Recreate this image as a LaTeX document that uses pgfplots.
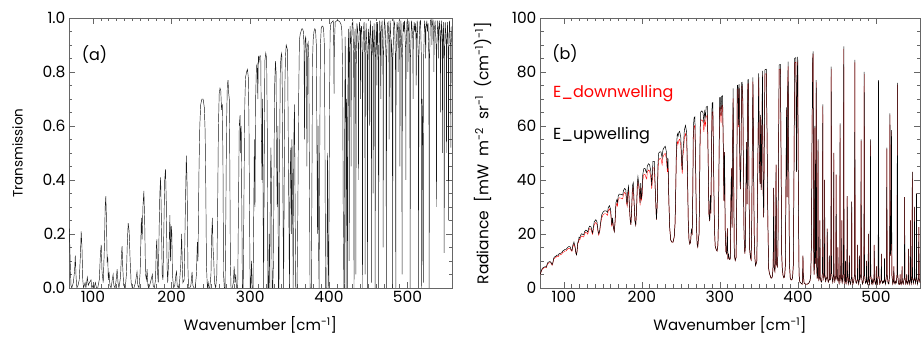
\documentclass[border=0pt]{standalone}
\usepackage{fontspec}
\setmainfont{Poppins}
\usepackage{pgfplots}
\usepackage{pgfplotstable}
\pgfplotsset{compat=1.18}
\pgfplotstableread{
x T U D
70 0.22 5.2 5.1
71 0.10 6.2 6.1
72 0.01 7.0 6.7
73 0.0 7.4 7.1
75 0.02 7.8 7.5
76.5 0.06 7.9 7.6
77.5 0.12 7.7 7.5
78.5 0.04 8.7 8.3
79.5 0.0 9.4 9.0
81 0.01 9.7 9.3
82.5 0.03 9.8 9.4
84 0.12 9.3 9.1
85 0.21 8.6 8.4
86 0.15 9.4 9.2
87 0.03 11.0 10.6
88 0.0 11.5 11.0
90 0.02 11.8 11.3
91 0.0 12.2 11.7
92.8 0.04 12.1 11.6
94 0.01 12.7 12.2
95.5 0.02 12.8 12.3
97.5 0.03 13.1 12.6
98.5 0.0 13.7 13.2
100 0.01 13.9 13.3
101.5 0.0 14.3 13.7
103 0.02 14.3 13.7
104.5 0.0 14.9 14.3
106 0.0 15.3 14.7
108 0.03 15.3 14.7
109.5 0.13 14.1 13.8
110.5 0.16 13.9 13.6
111.5 0.06 15.8 15.2
113 0.02 17.0 16.3
114.5 0.15 15.2 14.9
115.5 0.30 12.9 12.9
116.3 0.34 12.3 12.3
117 0.27 13.7 13.6
118 0.10 17.1 16.7
118.8 0.11 17.1 16.7
119.5 0.03 18.8 18.1
120.5 0.06 18.5 17.8
121.5 0.01 19.6 18.8
123 0.0 20.1 19.3
124.5 0.03 19.8 19.0
125.6 0.05 19.7 18.9
126.5 0.01 20.8 20.0
128 0.0 21.4 20.6
129.5 0.03 21.2 20.4
130.7 0.07 20.7 19.9
131.8 0.02 22.1 21.2
133 0.0 22.9 22.0
135 0.04 22.6 21.7
136.3 0.13 20.8 20.3
137 0.155 20.4 19.9
137.8 0.08 22.4 21.5
139 0.01 24.5 23.5
141 0.0 25.3 24.3
142.5 0.05 24.5 23.5
143.8 0.18 21.4 20.9
144.8 0.24 20.1 19.6
146 0.21 21.3 20.8
147 0.12 23.9 23.4
148.5 0.02 27.0 25.9
150 0.0 28.0 26.9
152 0.0 28.6 27.5
154 0.02 28.6 27.5
156 0.06 28.0 26.9
157 0.01 29.8 28.6
158.5 0.0 30.5 29.3
160 0.06 29.1 28.0
161.5 0.26 23.3 22.7
162.5 0.18 26.0 25.4
163.5 0.30 22.5 22.5
164.7 0.36 20.9 20.9
165.7 0.25 24.7 24.2
166.8 0.05 31.6 30.3
168 0.03 32.7 31.4
168.8 0.07 31.7 30.4
169.8 0.01 34.1 32.7
171 0.0 34.8 33.4
173 0.02 34.7 33.3
175.5 0.05 34.4 33.0
176.5 0.01 36.1 34.7
178 0.0 36.9 35.4
179.5 0.03 36.3 34.8
180.5 0.15 32.1 31.3
181.2 0.18 31.1 30.3
182 0.06 35.8 34.3
183 0.02 37.6 36.1
184 0.2 31.1 30.3
185 0.35 25.5 25.5
186 0.41 23.4 23.4
187 0.25 29.8 29.0
188 0.05 37.9 36.4
189 0.03 39.0 37.4
190 0.2 32.5 31.7
191.2 0.4 24.7 24.7
192.2 0.44 23.3 23.3
193.2 0.32 28.4 28.4
194.2 0.08 38.5 36.9
195 0.02 41.2 39.5
196.5 0.12 37.5 36.6
197.8 0.27 31.4 30.6
198.6 0.1 38.8 37.3
199.5 0.23 33.5 32.6
200.3 0.2 35.0 34.1
201 0.05 41.6 39.5
202.5 0.0 44.2 42.0
204 0.01 44.3 42.1
205.5 0.05 43.0 40.8
206.3 0.06 42.7 40.4
207 0.01 45.2 42.9
208.5 0.0 46.0 43.7
210 0.02 45.6 43.3
211.5 0.08 43.2 40.9
212.7 0.2 37.9 36.7
213.5 0.1 42.8 40.4
214.3 0.02 46.9 44.5
216 0.03 46.9 44.5
217.5 0.3 34.2 34.2
218.7 0.49 25.3 25.3
219.7 0.38 30.8 30.8
220.7 0.08 45.8 43.3
221.5 0.0 49.9 47.4
223 0.0 50.4 47.9
224.5 0.01 50.4 47.9
226 0.06 48.3 45.7
227 0.01 51.1 48.5
228.5 0.0 52.0 49.4
230 0.0 52.5 49.9
231.5 0.05 50.4 47.7
232.7 0.17 44.3 43.0
233.5 0.1 48.2 45.5
234.7 0.42 31.5 31.5
235.8 0.6 22.0 22.0
237 0.68 17.8 17.8
238.5 0.70 17.0 17.0
240 0.70 17.0 17.0
241.5 0.67 18.9 18.9
242.6 0.58 24.0 24.0
243.5 0.35 36.9 36.9
244.3 0.08 52.3 49.5
245.5 0.0 57.1 54.2
246.5 0.02 56.3 53.4
247.5 0.0 57.7 54.8
248.5 0.0 58.0 55.1
250 0.05 55.6 52.7
251 0.2 47.1 45.6
251.8 0.26 43.8 42.3
252.6 0.15 50.5 49.0
253.6 0.1 53.7 51.0
254.5 0.02 58.6 55.6
256 0.0 60.2 57.2
257.5 0.05 57.5 54.5
258.5 0.3 42.7 42.7
259.5 0.6 24.7 24.7
260.5 0.72 17.6 17.6
261.5 0.74 16.3 16.3
262.5 0.73 17.0 17.0
263.5 0.66 21.4 21.4
264.5 0.68 20.2 20.2
265.3 0.45 34.7 34.7
266 0.05 59.7 56.6
267 0.0 63.1 59.9
268 0.0 63.4 60.2
269 0.3 44.7 44.7
269.8 0.6 25.9 25.9
270.8 0.75 16.4 16.4
271.7 0.77 15.2 15.2
272.6 0.72 18.4 18.4
273.3 0.70 19.9 19.9
274 0.45 35.9 35.9
274.7 0.1 58.5 55.3
275.5 0.0 65.2 61.9
277 0.0 65.6 62.3
278.5 0.02 64.8 61.5
279.5 0.08 61.1 57.8
280.5 0.02 65.3 62.0
281.5 0.05 63.5 60.2
282.5 0.0 67.0 63.6
284 0.0 67.3 63.9
285 0.3 47.4 47.4
286 0.6 27.4 27.4
287 0.64 24.8 24.8
287.8 0.5 34.3 34.3
288.5 0.6 27.6 27.6
289.2 0.3 48.0 48.0
290 0.0 68.5 65.1
291 0.0 68.7 65.3
292 0.35 45.0 45.0
293 0.68 22.5 22.5
294 0.78 15.6 15.6
295.2 0.80 14.3 14.3
296.4 0.81 13.7 13.7
297.5 0.78 15.8 15.8
298.3 0.62 27.0 27.0
299 0.3 49.4 49.4
299.8 0.0 70.5 67.0
300.5 0.0 70.6 67.1
301.5 0.1 63.8 61.1
302.3 0.0 71.0 67.5
303.5 0.0 71.2 67.6
304.5 0.3 50.1 50.1
305.2 0.55 32.4 32.4
306 0.3 50.3 50.3
306.8 0.7 21.9 21.9
307.8 0.82 13.4 13.4
308.8 0.83 12.7 12.7
309.6 0.70 22.1 22.1
310.3 0.86 10.6 10.6
311.2 0.84 12.3 12.3
312.2 0.86 10.6 10.6
313.3 0.86 10.7 10.7
314 0.6 29.6 29.6
314.8 0.4 44.3 44.3
315.6 0.7 22.4 22.4
316.3 0.3 51.8 51.8
317 0.0 73.9 70.2
317.8 0.5 37.3 37.3
318.5 0.84 12.3 12.3
319.7 0.87 10.2 10.2
320.8 0.85 11.3 11.3
321.6 0.6 30.2 30.2
322.3 0.0 75.0 73.5
323.2 0.0 75.1 73.6
324 0.2 60.4 59.6
324.8 0.0 75.5 74.0
325.5 0.35 49.3 49.3
326.2 0.52 36.6 36.6
327 0.4 45.7 45.7
327.8 0.0 76.1 74.6
328.6 0.0 76.2 74.7
329.5 0.1 68.8 67.4
330.3 0.5 38.5 38.5
331 0.75 19.5 19.5
332 0.84 12.7 12.7
332.8 0.80 15.8 15.8
333.6 0.45 42.5 42.5
334.3 0.3 54.0 54.0
335 0.6 31.1 31.1
335.8 0.0 77.1 75.6
336.5 0.0 77.2 75.7
337.3 0.5 38.9 38.9
338.2 0.82 14.3 14.3
339.2 0.86 11.3 11.3
340 0.87 10.5 10.5
340.8 0.72 22.3 22.3
341.6 0.3 54.6 54.6
342.4 0.0 78.0 76.4
343.2 0.4 47.0 47.0
344 0.75 20.0 20.0
344.8 0.86 11.4 11.4
345.7 0.90 8.3 8.3
346.6 0.89 9.1 9.1
347.4 0.88 10.0 10.0
348.2 0.6 32.0 32.0
349 0.3 55.6 55.6
349.8 0.0 79.5 77.9
350.6 0.4 48.0 48.0
351.5 0.52 38.6 38.6
352.3 0.2 64.1 63.3
353 0.55 36.3 36.3
353.8 0.3 56.3 56.3
354.6 0.0 80.4 78.8
355.4 0.55 36.6 36.6
356.2 0.68 26.2 26.2
357 0.3 56.6 56.6
357.8 0.0 80.8 79.2
358.6 0.0 80.9 79.3
359.5 0.0 81.0 79.4
360.5 0.3 56.9 56.9
361.5 0.7 24.7 24.7
362.5 0.92 7.3 7.3
363.5 0.94 5.4 5.4
364.5 0.95 4.6 4.6
365.5 0.96 3.7 3.7
366.5 0.96 3.7 3.7
367.5 0.95 4.6 4.6
368.3 0.90 8.6 8.6
369 0.55 37.1 37.1
369.7 0.92 7.4 7.4
370.5 0.93 6.2 6.2
371.3 0.88 10.3 10.3
372 0.45 45.7 45.7
372.8 0.90 8.7 8.7
373.6 0.91 7.9 7.9
374.4 0.85 12.8 12.8
375.2 0.4 49.7 49.7
376 0.0 82.6 81.0
376.8 0.0 82.7 81.0
377.6 0.0 82.8 81.1
378.4 0.4 49.9 49.9
379.2 0.85 12.9 12.9
380 0.92 7.1 7.1
381 0.95 4.6 4.6
382 0.96 3.8 3.8
383 0.955 4.2 4.2
384 0.9 8.8 8.8
384.8 0.5 42.0 42.0
385.5 0.2 66.9 66.0
386.2 0.6 33.7 33.7
386.8 0.15 71.3 70.5
387.5 0.0 83.8 82.1
388.3 0.5 42.2 42.2
389.2 0.9 8.8 8.8
390.2 0.96 3.8 3.8
391.2 0.97 3.0 3.0
392.2 0.97 3.0 3.0
393.2 0.96 3.9 3.9
394.2 0.9 8.9 8.9
395 0.5 42.8 42.8
395.8 0.0 85.1 83.4
396.6 0.0 85.2 83.5
397.4 0.0 85.3 83.6
398.2 0.5 43.0 43.0
399 0.1 77.0 76.0
399.8 0.0 85.6 83.9
400.6 0.6 34.5 34.5
401.5 0.95 4.8 4.8
402.5 0.98 2.2 2.2
404 0.985 1.8 1.8
405.5 0.99 1.4 1.4
406.1 0.9 5 5
406.5 0.72 12 12
406.9 0.9 5 5
408 0.985 1.8 1.8
410 0.99 1.4 1.4
412 0.99 1.4 1.4
414 0.985 1.8 1.8
415.5 0.975 2.7 2.7
416.5 0.95 4.8 4.8
417.4 0.8 18 18
418.2 0.3 60 60
419.0 0.0 85 84.2
419.5 0.0 87.6 86.7
420.1 0.6 18 18
420.7 0.93 5 5
421.3 0.7 9 9
421.8 0.0 60 59.4
422.3 0.7 9 9
422.9 0.6 14 14
423.5 0.0 77 76.2
424.1 0.7 8 8
424.7 0.96 3.5 3.5
425.4 0.85 5 5
425.8 0.1 55 54.5
426.2 0.85 5 5
426.9 0.97 3 3
427.8 0.9 4 4
428.2 0.45 25 25
428.6 0.9 4 4
429.6 0.98 2.5 2.5
430.5 0.985 2.2 2.2
431.5 0.85 6 6
431.9 0.0 68 67.3
432.3 0.85 6 6
433.2 0.96 3.5 3.5
434.0 0.8 5 5
434.3 0.05 40 40
434.6 0.8 5 5
435.6 0.98 2.5 2.5
436.4 0.96 3.5 3.5
437.3 0.88 4 4
437.6 0.4 22 22
437.9 0.88 4 4
438.9 0.985 2.2 2.2
439.9 0.95 3 3
440.2 0.7 12 12
440.5 0.95 3 3
441.5 0.97 3 3
442.3 0.85 6 6
442.7 0.0 82 81.2
443.1 0.85 6 6
444.0 0.96 3.5 3.5
444.7 0.985 2.2 2.2
445.7 0.85 5 5
446.0 0.05 50 50
446.3 0.85 5 5
447.3 0.98 2.5 2.5
448.6 0.85 4.5 4.5
449.0 0.0 42 42
449.4 0.85 4.5 4.5
450.4 0.96 3 3
451.0 0.9 4 4
451.3 0.6 15 15
451.6 0.9 4 4
452.8 0.99 1.8 1.8
453.7 0.85 5 5
454.0 0.02 61 60.4
454.3 0.85 5 5
455.3 0.97 2.5 2.5
456.0 0.88 4 4
456.3 0.35 25 25
456.6 0.88 4 4
457.5 0.98 2.2 2.2
458.4 0.85 6 6
458.8 0.0 89.5 88.6
459.2 0.85 6 6
460.2 0.985 2 2
460.7 0.93 3 3
461.0 0.75 10 10
461.3 0.93 3 3
461.8 0.985 1.8 1.8
462.8 0.85 4.5 4.5
463.2 0.0 34 34
463.6 0.85 4.5 4.5
464.6 0.99 1.5 1.5
465.3 0.95 2.5 2.5
466.0 0.7 12 12
466.5 0.95 2.5 2.5
467.6 0.99 1.5 1.5
468.7 0.85 4 4
469.0 0.15 32 32
469.3 0.85 4 4
470.5 0.99 1.5 1.5
471.5 0.97 2.5 2.5
472.6 0.85 5 5
473.0 0.0 84.5 83.6
473.4 0.85 5 5
474.5 0.98 2 2
475.3 0.985 1.8 1.8
476.3 0.9 3.5 3.5
476.6 0.55 16 16
476.9 0.9 3.5 3.5
477.9 0.99 1.5 1.5
478.7 0.92 3 3
479.0 0.65 12 12
479.3 0.92 3 3
480.6 0.85 5 5
481.0 0.0 55 54.5
481.4 0.85 5 5
482.6 0.99 1.5 1.5
483.5 0.98 2 2
484.6 0.85 5 5
485.0 0.0 80 79.2
485.4 0.85 5 5
486.6 0.985 1.8 1.8
487.7 0.95 2.5 2.5
488.0 0.8 10 10
488.3 0.95 2.5 2.5
489.3 0.99 1.5 1.5
490.0 0.88 3.5 3.5
490.3 0.45 20 20
490.6 0.88 3.5 3.5
491.6 0.99 1.5 1.5
492.6 0.85 5 5
493.0 0.05 55 54.5
493.4 0.85 5 5
494.5 0.985 1.8 1.8
495.3 0.95 3 3
496.1 0.99 1.5 1.5
497.5 0.88 3.5 3.5
497.8 0.4 16 16
498.1 0.88 3.5 3.5
499.3 0.99 1.5 1.5
500.2 0.95 2.5 2.5
500.5 0.8 8 8
500.8 0.95 2.5 2.5
501.8 0.99 1.5 1.5
502.9 0.85 5 5
503.3 0.0 77 76.2
503.7 0.85 5 5
505.0 0.99 1.5 1.5
506.7 0.92 3 3
507.0 0.7 12.6 12.6
507.3 0.92 3 3
508.4 0.985 1.8 1.8
509.2 0.95 2.5 2.5
510.0 0.98 2 2
510.7 0.92 3 3
511.0 0.75 11 11
511.3 0.92 3 3
512.3 0.99 1.5 1.5
513.6 0.85 5 5
514.0 0.0 52 51.5
514.4 0.85 5 5
515.6 0.985 1.8 1.8
516.5 0.99 1.5 1.5
517.6 0.85 5 5
518.0 0.0 64.7 64.0
518.5 0.7 12 12
519.3 0.6 15 15
520.0 0.02 58.5 57.9
520.4 0.85 5 5
521.6 0.99 1.5 1.5
522.5 0.96 2.5 2.5
523.0 0.85 8 8
523.4 0.96 2.5 2.5
524.5 0.99 1.5 1.5
525.3 0.95 2.5 2.5
526.1 0.98 2 2
527.1 0.85 5 5
527.5 0.0 76 75.2
527.9 0.85 5 5
529.0 0.99 1.5 1.5
530.0 0.995 1.3 1.3
530.7 0.97 2 2
531.0 0.9 5 5
531.3 0.97 2 2
532.3 0.995 1.3 1.3
533.2 0.94 2.5 2.5
533.5 0.8 8 8
533.8 0.94 2.5 2.5
535.0 0.99 1.5 1.5
536.5 0.88 4 4
536.8 0.3 33.7 33.7
537.1 0.88 4 4
538.3 0.99 1.5 1.5
539.2 0.95 2.5 2.5
539.5 0.85 5 5
539.8 0.95 2.5 2.5
540.8 0.99 1.5 1.5
541.7 0.92 3 3
542.0 0.65 14.5 14.5
542.3 0.92 3 3
543.3 0.99 1.5 1.5
544.2 0.9 3.5 3.5
544.5 0.5 25 25
544.8 0.9 3.5 3.5
545.6 0.985 1.8 1.8
546.3 0.85 4.5 4.5
546.6 0.13 43 43
546.9 0.85 4.5 4.5
547.9 0.985 1.8 1.8
549.2 0.9 3.5 3.5
549.5 0.5 30 30
549.8 0.9 3.5 3.5
550.9 0.985 1.8 1.8
551.7 0.85 4 4
552.0 0.25 35 35
552.3 0.85 4 4
553.3 0.99 1.5 1.5
554.6 0.9 3.5 3.5
555.0 0.52 22.5 22.5
555.4 0.9 3.5 3.5
556.5 0.97 2 2
}\spec

\pgfplotsset{
  myax/.style={
    scale only axis, height=270pt,
    xmin=69.5, xmax=556.5,
    xtick={100,200,300,400,500}, minor x tick num=9,
    minor y tick num=3,
    tick align=inside,
    major tick length=6pt, minor tick length=3.5pt,
    axis line style={black!60, line width=0.6pt},
    tick style={black!60, line width=0.5pt},
    tick label style={font=\fontsize{15.5}{17}\selectfont},
    xlabel style={font=\fontsize{15}{17}\selectfont, at={(axis description cs:0.5,-0.104)}, anchor=north, inner sep=0pt},
    ylabel style={inner sep=0pt, anchor=south},
    /pgf/number format/assume math mode=true,
  }
}

\begin{document}
\begin{tikzpicture}
\useasboundingbox (0,0) rectangle (924pt,337pt);
\begin{axis}[myax, width=383pt, at={(69pt,49pt)}, anchor=south west,
  ymin=0, ymax=1, ytick={0,0.2,0.4,0.6,0.8,1},
  yticklabel style={/pgf/number format/.cd, fixed, fixed zerofill, precision=1},
  ylabel style={font=\fontsize{13.5}{16}\selectfont, at={(axis description cs:-0.12,0.5)}},
  xlabel={Wavenumber [cm\textsuperscript{-1}]}, ylabel={Transmission}]
\addplot[black!90, line width=0.45pt] table[x=x,y=T]{\spec};
\node[font=\fontsize{16}{18}\selectfont] at (axis cs:102,0.863) {(a)};
\end{axis}
\begin{axis}[myax, width=380pt, at={(540pt,49pt)}, anchor=south west,
  ymin=0, ymax=100, ytick={0,20,40,60,80,100},
  ylabel style={font=\fontsize{15.5}{17}\selectfont, at={(axis description cs:-0.128,0.5)}},
  xlabel={Wavenumber [cm\textsuperscript{-1}]},
  ylabel={Radiance\ \ [mW\ \ m\textsuperscript{-2}\ \ sr\textsuperscript{-1}\ \ (cm\textsuperscript{-1})\textsuperscript{-1}]}]
\addplot[red, line width=0.4pt] table[x=x,y=D]{\spec};
\addplot[black, line width=0.5pt] table[x=x,y=U]{\spec};
\node[font=\fontsize{16}{18}\selectfont] at (axis cs:101.5,87) {(b)};
\node[font=\fontsize{16}{18}\selectfont, text=red, anchor=west, inner sep=0pt] at (axis cs:86,72) {E\_downwelling};
\node[font=\fontsize{16}{18}\selectfont, anchor=west, inner sep=0pt] at (axis cs:86,56.5) {E\_upwelling};
\end{axis}
\end{tikzpicture}
\end{document}
